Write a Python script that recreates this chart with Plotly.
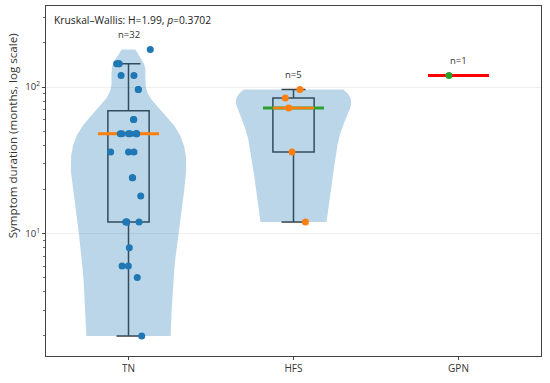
import numpy as np
import plotly.graph_objects as go

# ---- data (months) ----
categories = ["TN", "HFS", "GPN"]
tn_values = [2, 5, 6, 6, 8, 12, 12, 12, 12, 18, 24, 24, 36, 36, 36,
             48, 48, 48, 48, 48, 48, 48, 60, 60, 96, 96, 120, 120, 144, 144, 144, 180]
tn_jitter = [0.08, 0.053, -0.039, -0.001, 0.005, -0.017, -0.01, 0.064, -0.012, 0.074, 0.023, 0.025,
             -0.108, 0.0, 0.033, -0.05, -0.04, 0.0, 0.01, 0.05, 0.045, 0.048,
             0.032, 0.03, 0.059, 0.06, -0.045, 0.033, -0.072, -0.056, -0.06, 0.132]
hfs_values = [12, 36, 72, 84, 96]
hfs_jitter = [0.072, -0.009, -0.029, -0.05, 0.039]
gpn_values = [120]
gpn_jitter = [-0.058]
title_text = "Kruskal\u2013Wallis: H=1.99, <i>p</i>=0.3702"
y_title = "Symptom duration (months, log scale)"

groups = [tn_values, hfs_values, gpn_values]
jitters = [tn_jitter, hfs_jitter, gpn_jitter]
point_colors = ["#1f77b4", "#ff7f0e", "#2ca02c"]
median_colors = ["#ff7f0e", "#2ca02c", "#ff0000"]
VIOLIN_WIDTH = 0.7

fig = go.Figure()

# violins: gaussian KDE (Scott bandwidth) on the data, cut at min/max, like matplotlib
for i, vals in enumerate(groups):
    if len(vals) < 2:
        continue
    arr = np.array(vals, dtype=float)
    bw = arr.std(ddof=1) * len(arr) ** (-1 / 5)
    t = np.linspace(arr.min(), arr.max(), 200)
    dens = np.exp(-0.5 * ((t[:, None] - arr[None, :]) / bw) ** 2).sum(axis=1)
    half = 0.5 * VIOLIN_WIDTH * dens / dens.max()
    xs = np.concatenate([i - half, (i + half)[::-1]])
    ys = np.concatenate([t, t[::-1]])
    fig.add_trace(go.Scatter(
        x=xs, y=ys, mode="lines", fill="toself", fillcolor="rgba(31,119,180,0.3)",
        line=dict(width=0, color="rgba(0,0,0,0)"), hoverinfo="skip", showlegend=False,
    ))

# boxes (numpy linear quartiles, 1.5 IQR whiskers)
for i, vals in enumerate(groups):
    if len(vals) < 2:
        continue
    arr = np.array(vals, dtype=float)
    q1, med, q3 = np.percentile(arr, [25, 50, 75])
    iqr = q3 - q1
    lo = arr[arr >= q1 - 1.5 * iqr].min()
    hi = arr[arr <= q3 + 1.5 * iqr].max()
    fig.add_trace(go.Box(
        x=[i], q1=[q1], median=[med], q3=[q3], lowerfence=[lo], upperfence=[hi],
        width=0.25, whiskerwidth=0.58, fillcolor="rgba(0,0,0,0)",
        line=dict(color="#3a3a3a", width=1.5), boxpoints=False,
        hoverinfo="skip", showlegend=False,
    ))

# wide median lines
for i, vals in enumerate(groups):
    med = float(np.median(vals))
    fig.add_trace(go.Scatter(
        x=[i - 0.185, i + 0.185], y=[med, med], mode="lines",
        line=dict(color=median_colors[i], width=3), hoverinfo="skip", showlegend=False,
    ))

# box median (orange) inside box
for i, vals in enumerate(groups):
    if len(vals) < 2:
        continue
    med = float(np.median(vals))
    fig.add_trace(go.Scatter(
        x=[i - 0.125, i + 0.125], y=[med, med], mode="lines",
        line=dict(color="#ff7f0e", width=2.5), hoverinfo="skip", showlegend=False,
    ))

# points
for i, vals in enumerate(groups):
    fig.add_trace(go.Scatter(
        x=[i + j for j in jitters[i]], y=vals, mode="markers",
        marker=dict(color=point_colors[i], size=7, line=dict(width=0)),
        hoverinfo="skip", showlegend=False,
    ))

# n= labels
for i, vals in enumerate(groups):
    fig.add_annotation(x=i, y=np.log10(max(vals) * 1.26), text=f"n={len(vals)}",
                       showarrow=False, font=dict(size=9.5, color="#333"), yanchor="middle")

fig.add_annotation(xref="paper", yref="paper", x=0.012, y=0.985, xanchor="left", yanchor="top",
                   text=title_text, showarrow=False, font=dict(size=10.3, color="#222"))

fig.add_annotation(xref="paper", yref="paper", x=-0.0677, y=0.629, xanchor="center", yanchor="middle",
                   text=y_title, textangle=-90, showarrow=False, font=dict(size=11.6, color="#333"))

fig.update_layout(
    width=550, height=383, margin=dict(l=46, r=9, t=6, b=27),
    paper_bgcolor="white", plot_bgcolor="white",
    font=dict(family="Open Sans, DejaVu Sans, sans-serif", color="#333"),
    boxmode="overlay",
)
fig.update_xaxes(
    range=[-0.5, 2.5], tickvals=[0, 1, 2], ticktext=categories, automargin=False,
    showgrid=False, zeroline=False, showline=True, mirror=True, linecolor="#444", linewidth=1.2,
    ticks="outside", ticklen=3, tickcolor="#444", tickfont=dict(size=10, color="#333"),
)
fig.update_yaxes(
    type="log", range=[0.164, 2.553], tickvals=[10, 100], automargin=False,
    ticktext=["10<sup>1</sup>", "10<sup>2</sup>"],
    showgrid=True, gridcolor="#eeeeee", gridwidth=1, zeroline=False,
    showline=True, mirror=True, linecolor="#444", linewidth=1.2,
    ticks="outside", ticklen=3, tickcolor="#444", tickfont=dict(size=9.5, color="#333"),
    minor=dict(ticks="outside", ticklen=2, tickcolor="#666", dtick="D1", showgrid=False),
)

fig.write_html("out.html", config={"displayModeBar": False},
               post_script="document.body.style.margin='0';")
